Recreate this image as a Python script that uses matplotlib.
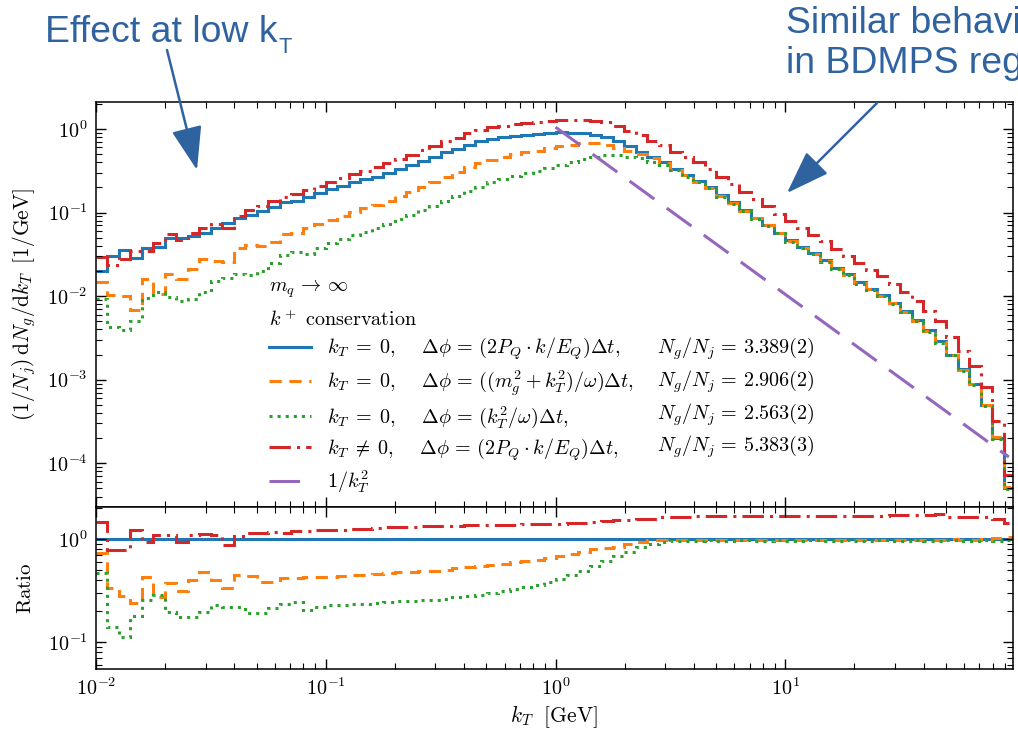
import numpy as np
import matplotlib.pyplot as plt
from matplotlib.lines import Line2D
from matplotlib.patches import FancyArrowPatch
from matplotlib.ticker import LogLocator, FuncFormatter, NullFormatter

plt.rcParams['mathtext.fontset'] = 'cm'
plt.rcParams['font.family'] = 'DejaVu Serif'

# histogram binning: 20 log bins per decade from 1e-2 to 1e2 GeV
kt_edges = 10 ** np.linspace(-2, 2, 81)

# reference curve: kT=0, dphi=(2P_Q.k/E_Q)dt   (log10 of (1/Nj) dNg/dkT)
blue_log = [-1.70, -1.52, -1.45, -1.55, -1.43, -1.41, -1.30, -1.30, -1.28, -1.24,
            -1.18, -1.12, -1.07, -1.03, -0.98, -0.93, -0.88, -0.86, -0.81, -0.77,
            -0.72, -0.68, -0.64, -0.60, -0.57, -0.53, -0.48, -0.43, -0.38, -0.33,
            -0.28, -0.24, -0.19, -0.15, -0.12, -0.10, -0.08, -0.07, -0.06, -0.05,
            -0.04, -0.05, -0.05, -0.07, -0.10, -0.15, -0.21, -0.27, -0.34, -0.40,
            -0.48, -0.55, -0.62, -0.70, -0.79, -0.88, -0.97, -1.06, -1.15, -1.24,
            -1.33, -1.41, -1.49, -1.57, -1.66, -1.74, -1.83, -1.91, -1.99, -2.08,
            -2.18, -2.29, -2.41, -2.54, -2.70, -2.87, -3.05, -3.30, -3.70, -4.30]

# log10 of ratio to the reference curve
orange_ratio_log = [-0.13, -0.47, -0.55, -0.62, -0.37, -0.56, -0.43, -0.50, -0.40, -0.32,
                    -0.40, -0.47, -0.35, -0.36, -0.42, -0.42, -0.38, -0.38, -0.37, -0.37,
                    -0.37, -0.36, -0.35, -0.35, -0.34, -0.33, -0.32, -0.32, -0.31, -0.31,
                    -0.30, -0.28, -0.27, -0.26, -0.25, -0.24, -0.22, -0.21, -0.20, -0.18,
                    -0.16, -0.14, -0.12, -0.10, -0.09, -0.08, -0.05, -0.03, -0.01, -0.01,
                    -0.01, -0.005, -0.01, -0.005, -0.01, -0.005, -0.01, -0.01, -0.005, -0.01,
                    -0.005, -0.01, -0.005, -0.01, -0.01, -0.005, -0.01, -0.005, -0.01, -0.005,
                    -0.01, -0.005, -0.01, -0.005, 0.0, -0.01, -0.005, 0.0, 0.01, 0.02]
green_ratio_log = [-0.33, -0.85, -0.95, -0.75, -0.59, -0.54, -0.71, -0.76, -0.76, -0.71,
                   -0.64, -0.66, -0.66, -0.72, -0.72, -0.67, -0.63, -0.61, -0.69, -0.66,
                   -0.64, -0.64, -0.63, -0.63, -0.62, -0.61, -0.60, -0.60, -0.59, -0.59,
                   -0.58, -0.56, -0.55, -0.54, -0.52, -0.50, -0.48, -0.46, -0.44, -0.42,
                   -0.39, -0.35, -0.31, -0.26, -0.21, -0.16, -0.12, -0.08, -0.05, -0.03,
                   -0.015, -0.02, -0.015, -0.01, -0.02, -0.015, -0.01, -0.02, -0.015, -0.01,
                   -0.02, -0.015, -0.01, -0.02, -0.015, -0.01, -0.02, -0.015, -0.01, -0.02,
                   -0.015, -0.01, -0.02, -0.015, -0.01, -0.02, -0.015, -0.01, -0.015, -0.01]
red_ratio_log = [0.17, -0.11, -0.11, 0.09, -0.03, 0.04, 0.04, -0.03, 0.04, 0.05,
                 0.04, -0.06, 0.03, 0.06, 0.06, 0.07, 0.06, 0.08, 0.08, 0.09,
                 0.09, 0.09, 0.10, 0.10, 0.11, 0.12, 0.12, 0.12, 0.13, 0.13,
                 0.13, 0.13, 0.14, 0.14, 0.14, 0.14, 0.14, 0.145, 0.145, 0.15,
                 0.15, 0.16, 0.16, 0.17, 0.18, 0.19, 0.19, 0.20, 0.20, 0.21,
                 0.21, 0.21, 0.22, 0.22, 0.22, 0.22, 0.22, 0.225, 0.225, 0.225,
                 0.225, 0.225, 0.225, 0.225, 0.225, 0.225, 0.225, 0.225, 0.225, 0.23,
                 0.23, 0.23, 0.235, 0.24, 0.21, 0.21, 0.21, 0.21, 0.20, 0.155]

# 1/kT^2 guide line
kt_line = np.array([1.0, 94.0])
line_norm = 1.05

labels = [r'$k_T\;=\;0,\quad\;\Delta\phi\,=\,(2P_Q\cdot k/E_Q)\Delta t,$',
          r'$k_T\;=\;0,\quad\;\Delta\phi\,=\,((m_g^2 + k_T^2)/\omega)\Delta t,$',
          r'$k_T\;=\;0,\quad\;\Delta\phi\,=\,(k_T^2/\omega)\Delta t,$',
          r'$k_T\;\neq\;0,\quad\;\Delta\phi\,=\,(2P_Q\cdot k/E_Q)\Delta t,$',
          r'$1/k_T^2$']
ng_over_nj = ['3.389(2)', '2.906(2)', '2.563(2)', '5.383(3)']

colors = ['#1f77b4', '#ff7f0e', '#2ca02c', '#d62728', '#9467bd']
styles = ['-', (0, (4, 2.5)), (0, (1, 1.65)), (0, (7, 2, 1, 2)), (0, (10, 5))]
ann_color = '#2f63a0'
leg_fs = 14.5

blue = 10 ** np.array(blue_log)
ratios = [np.ones(len(blue)),
          10 ** np.array(orange_ratio_log),
          10 ** np.array(green_ratio_log),
          10 ** np.array(red_ratio_log)]

W, H = 1018, 730
fig = plt.figure(figsize=(W / 100, H / 100), dpi=100)
ax1 = fig.add_axes([96 / W, 1 - 507 / H, 917 / W, 405 / H])
ax2 = fig.add_axes([96 / W, 1 - 669 / H, 917 / W, 162 / H], sharex=ax1)

handles = []
for r, c, ls, lab in zip(ratios, colors, styles, labels):
    h = ax1.stairs(blue * r, kt_edges, baseline=None, edgecolor=c, linestyle=ls, lw=2.2, label=lab)
    handles.append(h)
    ax2.stairs(r, kt_edges, baseline=None, edgecolor=c, linestyle=ls, lw=2.2)

h, = ax1.plot(kt_line, line_norm / kt_line ** 2, color=colors[4], linestyle=styles[4], lw=2.2)
handles.append(h)

decade_fmt = FuncFormatter(lambda v, p: r'$10^{%d}$' % round(np.log10(v)))
for ax in (ax1, ax2):
    ax.set_xscale('log')
    ax.set_yscale('log')
    ax.xaxis.set_major_locator(LogLocator(base=10, numticks=10))
    ax.xaxis.set_minor_locator(LogLocator(base=10, subs=np.arange(2, 10), numticks=20))
    ax.yaxis.set_major_locator(LogLocator(base=10, numticks=10))
    ax.yaxis.set_minor_locator(LogLocator(base=10, subs=np.arange(2, 10), numticks=20))
    ax.yaxis.set_major_formatter(decade_fmt)
    ax.yaxis.set_minor_formatter(NullFormatter())
    ax.tick_params(which='both', direction='in', top=True, right=True, labelsize=14.5, pad=6)
    ax.tick_params(which='major', length=7, width=1.0)
    ax.tick_params(which='minor', length=4, width=0.8)
    for s in ax.spines.values():
        s.set_linewidth(1.1)

ax2.xaxis.set_major_formatter(decade_fmt)
ax2.xaxis.set_minor_formatter(NullFormatter())
ax1.tick_params(axis='x', labelbottom=False)

ax1.set_xlim(1e-2, 98)
ax1.set_ylim(3.0e-5, 2.1)
ax2.set_ylim(0.055, 2.05)

ax1.set_ylabel(r'$(1/N_j)\,\mathrm{d}N_g/\mathrm{d}k_T\ \,[1/\mathrm{GeV}]$', fontsize=15.5)
ax2.set_ylabel(r'$\mathrm{Ratio}$', fontsize=15)
ax1.yaxis.set_label_coords(-0.063, 0.5)
ax2.yaxis.set_label_coords(-0.066, 0.5)
ax2.set_xlabel(r'$k_T\ \ [\mathrm{GeV}]$', fontsize=15.5, labelpad=3)

blank = Line2D([], [], linestyle='none')
leg_handles = handles + [blank] * 5
leg_labels = labels + [r'$N_g/N_j\,=\,%s$' % v for v in ng_over_nj] + ['']
title = r'$m_q\,\to\,\infty$' + '\n' + r'$k^+\ \mathrm{conservation}$'


def make_legend(anchor, colsp):
    lg = ax1.legend(leg_handles, leg_labels, ncol=2, loc='upper left',
                    bbox_to_anchor=anchor, bbox_transform=fig.transFigure,
                    frameon=False, fontsize=leg_fs, title=title, title_fontsize=leg_fs,
                    alignment='left', columnspacing=colsp, handlelength=2.1,
                    handletextpad=0.8, labelspacing=0.3, borderpad=0.4)
    lg.get_title().set_linespacing(1.55)
    return lg


# first pass, then shift so the title and the N_g/N_j column land where they should
anchor = (259 / W, 1 - 270 / H)
colsp = -2.0
leg = make_legend(anchor, colsp)
fig.canvas.draw()
rend = fig.canvas.get_renderer()
tb = leg.get_title().get_window_extent(rend)
nb = leg.get_texts()[5].get_window_extent(rend)
leg.remove()
px_per_em = leg_fs * 100 / 72
colsp += (665 - nb.x0) / px_per_em
anchor = (anchor[0] + (269 - tb.x0) / W, anchor[1] + ((H - 278) - tb.y1) / H)
leg = make_legend(anchor, colsp)

# annotations on top of the figure
t1 = fig.text(45 / W, 1 - 42 / H, 'Effect at low k', fontsize=26, color=ann_color,
              family='Liberation Sans', va='baseline')
w1 = t1.get_window_extent(rend).width
ann_fs = 26 * 232 / w1
t1.set_fontsize(ann_fs)
x_k = t1.get_window_extent(rend).x1
fig.text((x_k + 1) / W, 1 - 53 / H, 'T', fontsize=ann_fs * 0.58, color=ann_color,
         family='Liberation Sans', va='baseline')
fig.text(786 / W, 1 - 33 / H, 'Similar behaviour', fontsize=ann_fs, color=ann_color,
         family='Liberation Sans', va='baseline')
fig.text(786 / W, 1 - 73 / H, 'in BDMPS regime', fontsize=ann_fs, color=ann_color,
         family='Liberation Sans', va='baseline')

for tail, tip in [((167, 50), (197, 170)), ((877, 103), (787, 193))]:
    arr = FancyArrowPatch((tail[0] / W, 1 - tail[1] / H), (tip[0] / W, 1 - tip[1] / H),
                          transform=fig.transFigure, arrowstyle='-|>,head_length=27,head_width=9.5',
                          mutation_scale=1, color=ann_color, lw=1.8, shrinkA=0, shrinkB=0)
    fig.add_artist(arr)

fig.savefig('out.png', dpi=100)
